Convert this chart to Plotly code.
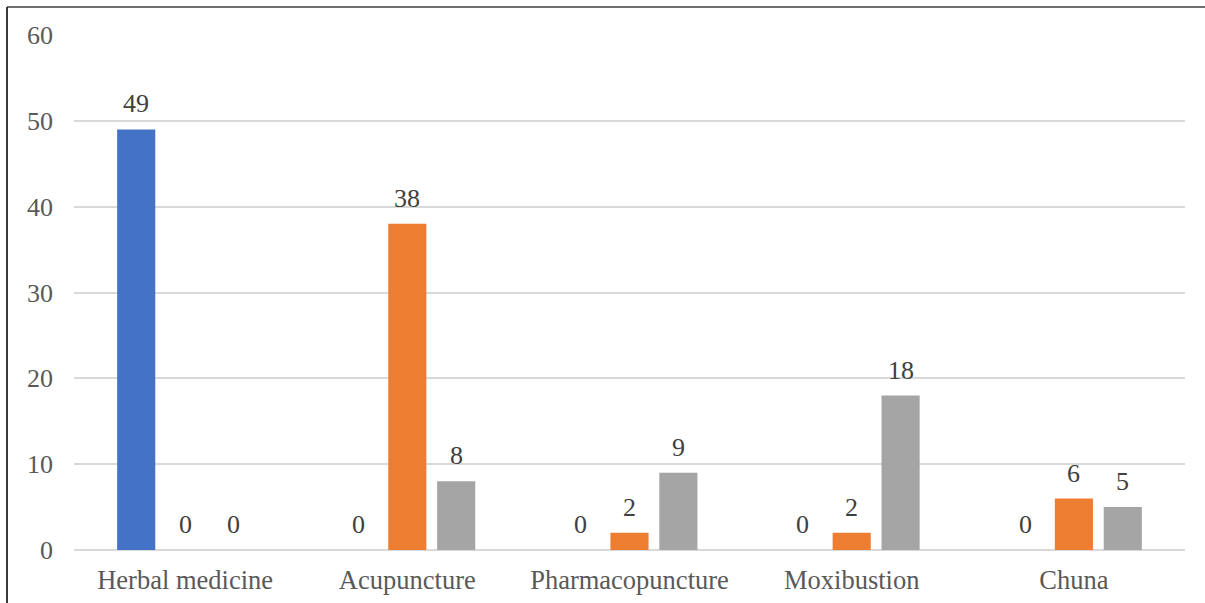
import plotly.graph_objects as go

categories = ["Herbal medicine", "Acupuncture", "Pharmacopuncture", "Moxibustion", "Chuna"]
series1 = [49, 0, 0, 0, 0]
series2 = [0, 38, 2, 2, 6]
series3 = [0, 8, 9, 18, 5]
colors = ["#4472C4", "#ED7D31", "#A5A5A5"]

font_family = "Liberation Serif, Times New Roman, serif"
BARGAP = 0.34
BARGROUPGAP = 0.22

fig = go.Figure()
all_series = [series1, series2, series3]
for vals, col in zip(all_series, colors):
    fig.add_trace(go.Bar(
        x=categories, y=vals, marker=dict(color=col, line=dict(width=0)),
        showlegend=False, hoverinfo="x+y",
    ))

# value labels above bars
n = len(all_series)
slot = (1 - BARGAP) / n
annotations = []
for k, vals in enumerate(all_series):
    for i, v in enumerate(vals):
        annotations.append(dict(
            x=i + (k - (n - 1) / 2) * slot, y=v, xref="x", yref="y",
            text=str(v), showarrow=False, yanchor="bottom", yshift=9,
            font=dict(family=font_family, size=26, color="#404040"),
        ))

W, H = 1205, 603
L, R, T, B = 74, 20, 35, 53
pw = W - L - R
ph = H - T - B

fig.update_layout(
    width=W, height=H,
    margin=dict(l=L, r=R, t=T, b=B, autoexpand=False),
    paper_bgcolor="white", plot_bgcolor="white",
    barmode="group", bargap=BARGAP, bargroupgap=BARGROUPGAP,
    font=dict(family=font_family, size=26, color="#595959"),
    annotations=annotations,
    xaxis=dict(showgrid=False, showline=False, ticks="", ticklabelstandoff=11, automargin=False,
               tickfont=dict(size=26.5, color="#595959")),
    yaxis=dict(range=[0, 60], dtick=10, showgrid=True, gridcolor="#D9D9D9", gridwidth=1.5,
               zeroline=True, zerolinecolor="#D9D9D9", zerolinewidth=1.5, automargin=False,
               showline=False, ticks="", tickfont=dict(size=26, color="#595959"), ticklabelstandoff=20),
    shapes=[
        dict(type="line", xref="paper", yref="paper",
             x0=(7 - L) / pw, x1=(W - L) / pw, y0=(H - B - 7) / ph, y1=(H - B - 7) / ph,
             line=dict(color="#6E6E6E", width=2)),
        dict(type="line", xref="paper", yref="paper",
             x0=(7 - L) / pw, x1=(7 - L) / pw, y0=(H - B - 7) / ph, y1=-B / ph,
             line=dict(color="#3A3A3A", width=2)),
    ],
)

fig.write_html("out.html")
